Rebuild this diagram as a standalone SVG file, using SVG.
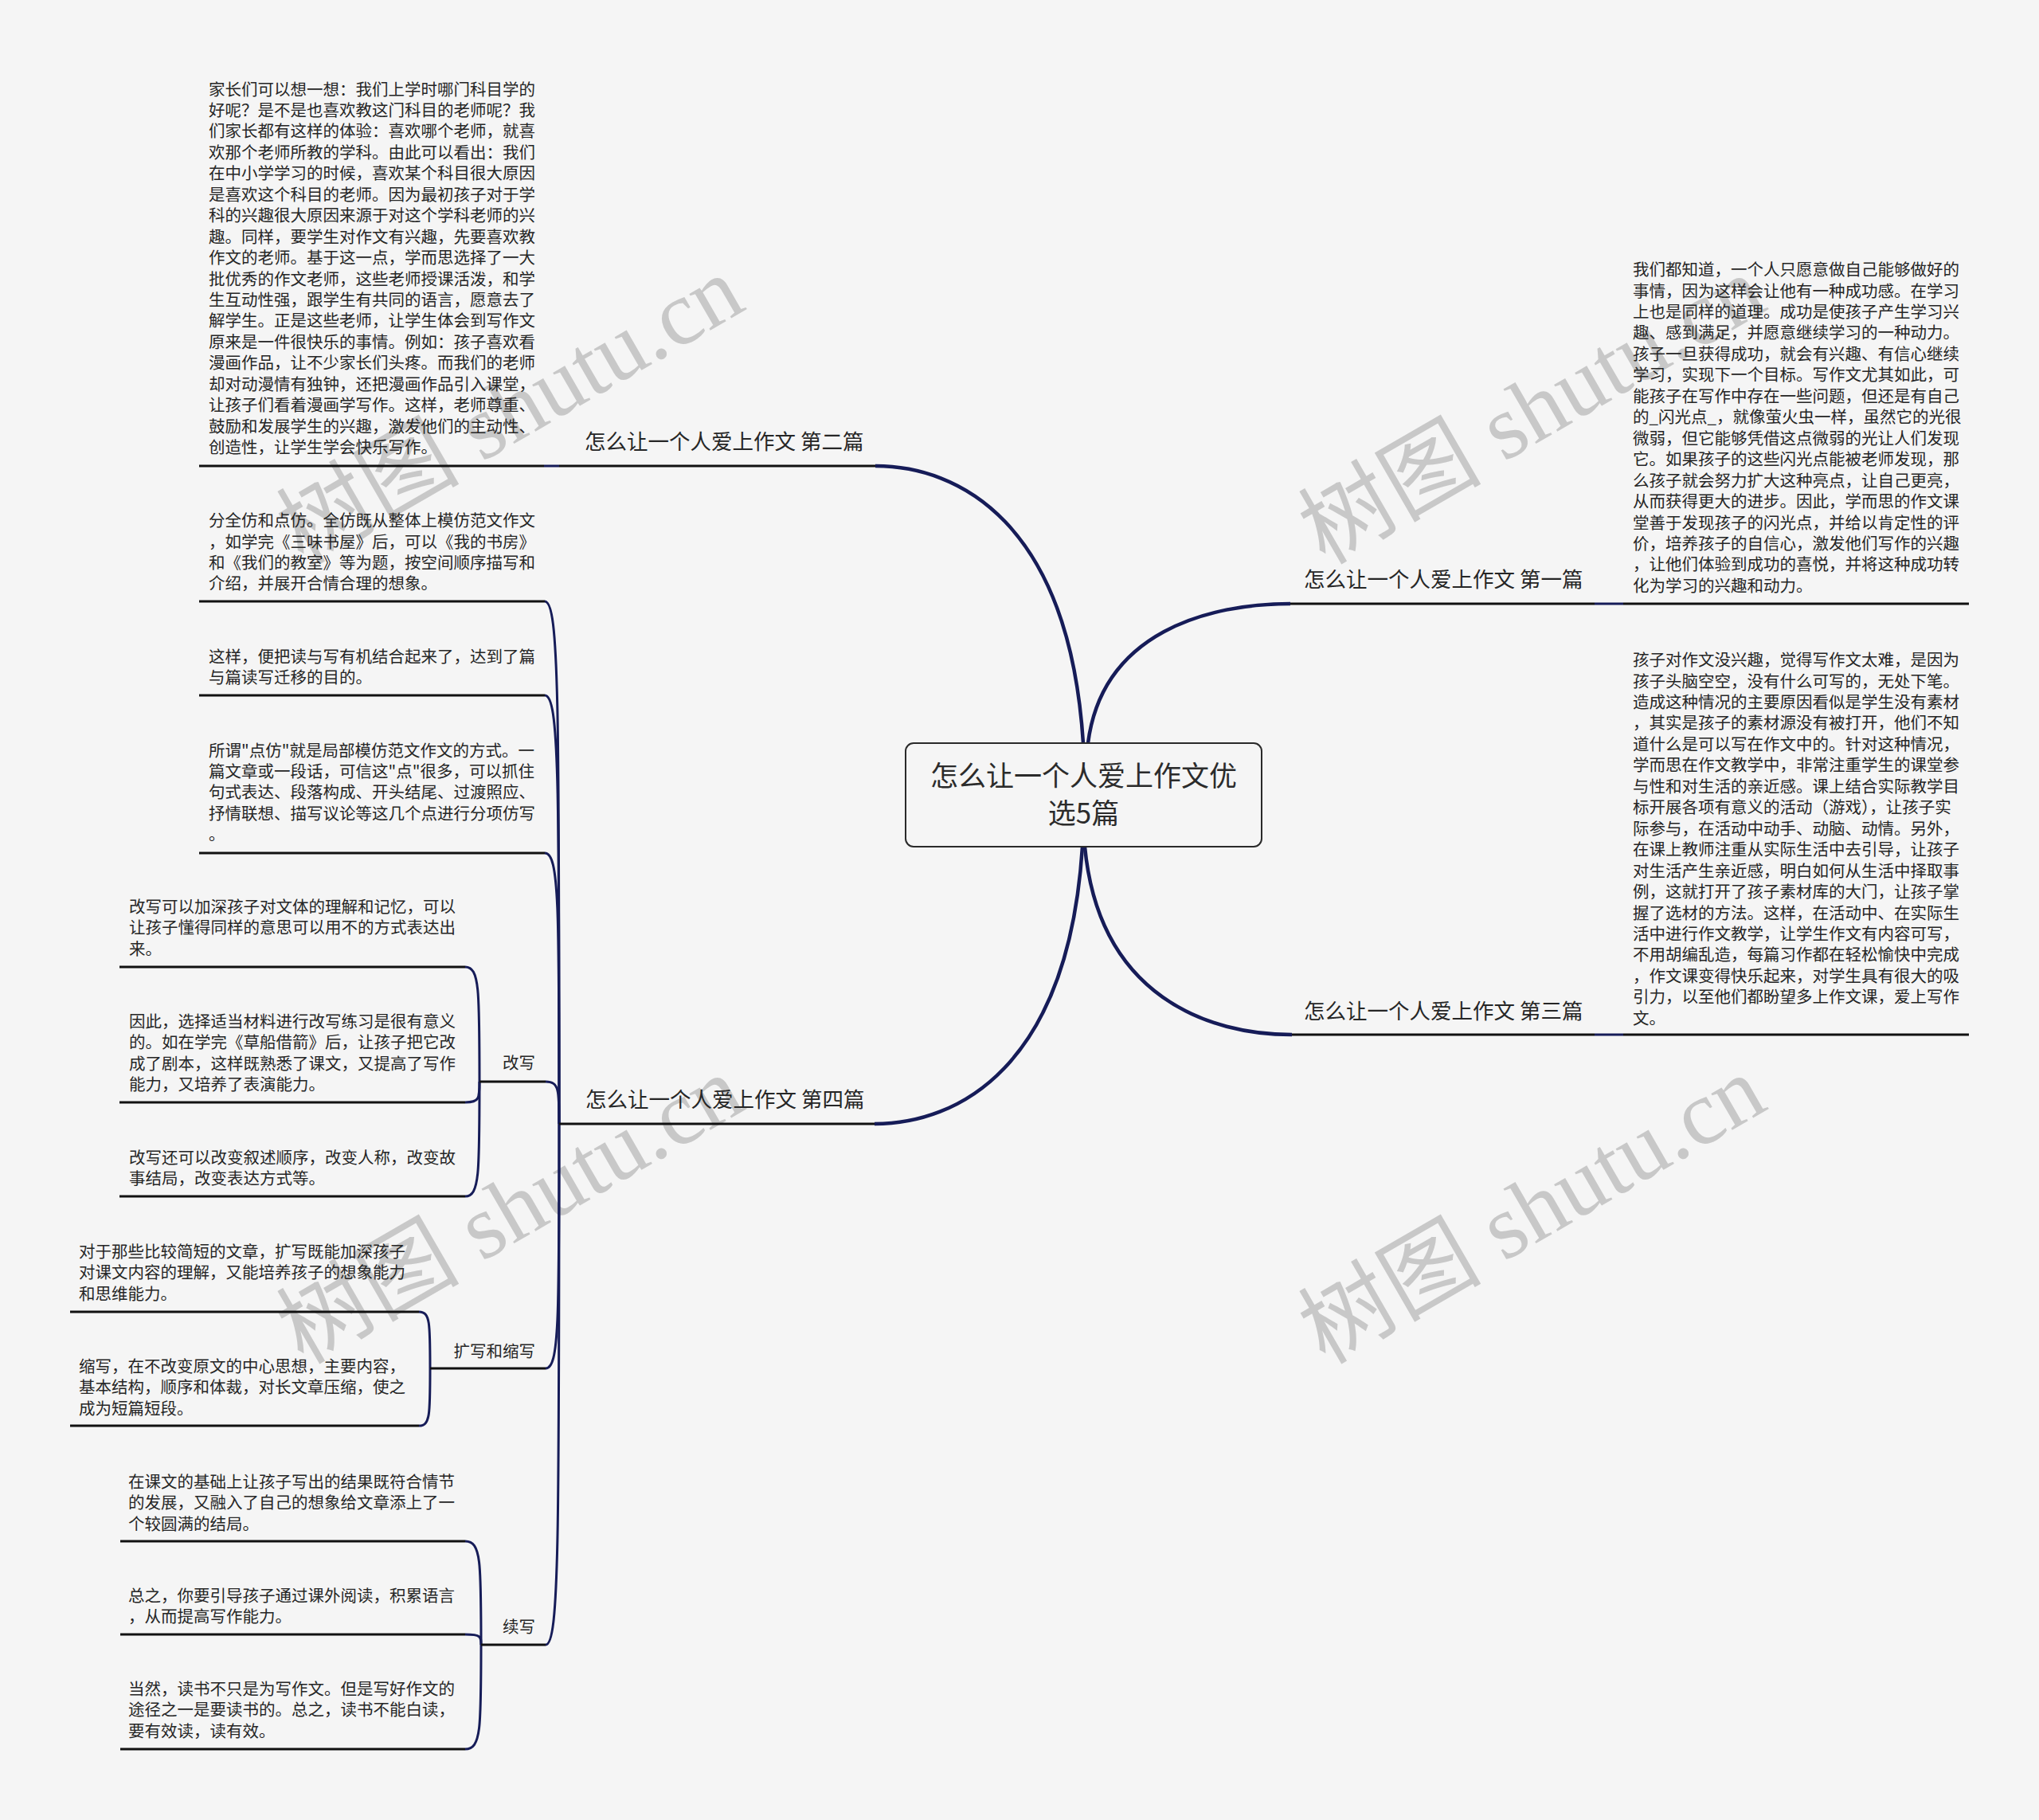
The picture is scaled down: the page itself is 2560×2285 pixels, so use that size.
<svg xmlns="http://www.w3.org/2000/svg" width="2560" height="2285" viewBox="0 0 2560 2285">
<style>
.t{font-family:'Noto Sans CJK SC','Liberation Sans',sans-serif;font-size:20.5px;fill:#262626}
.lb{font-family:'Noto Sans CJK SC','Liberation Sans',sans-serif;font-size:26.5px;fill:#262626}
.ct{font-family:'Noto Sans CJK SC','Liberation Sans',sans-serif;font-size:35px;fill:#2b2b2b}
.ul{stroke:#111;stroke-width:3;fill:none}
.cn{stroke:#161c58;stroke-width:3;fill:none}
.mb{stroke:#161c58;stroke-width:4.5;fill:none}
.wm{font-family:'Liberation Serif','Noto Sans CJK SC',serif;font-size:115px;fill:#c8c8c8}
</style>
<rect width="2560" height="2285" fill="#f5f5f5"/>
<g id="watermarks">
<text class="wm" text-anchor="middle" transform="translate(640,514) rotate(-30)" x="0" y="40">树图 shutu.cn</text>
<text class="wm" text-anchor="middle" transform="translate(640,1518) rotate(-30)" x="0" y="40">树图 shutu.cn</text>
<text class="wm" text-anchor="middle" transform="translate(1923,514) rotate(-30)" x="0" y="40">树图 shutu.cn</text>
<text class="wm" text-anchor="middle" transform="translate(1923,1518) rotate(-30)" x="0" y="40">树图 shutu.cn</text>
</g>
<g id="connectors">
<path class="mb" d="M1360,933 C1342,655 1203,585 1099,585"/>
<path class="mb" d="M1366,933 C1384,793 1518,758 1620,758"/>
<path class="mb" d="M1362,1063 C1380,1252 1518,1299 1622,1299"/>
<path class="mb" d="M1359,1063 C1341,1341 1202,1411 1098,1411"/>
<path class="cn" d="M702,585 L683,585"/>
<path class="cn" d="M2002,758 L2038,758"/>
<path class="cn" d="M2002,1299 L2038,1299"/>
<path class="cn" d="M702,1411 C702,886 702,755 684,755"/>
<path class="cn" d="M702,1411 C702,981 702,873 684,873"/>
<path class="cn" d="M702,1411 C702,1139 702,1071 684,1071"/>
<path class="cn" d="M702,1411 C702,1369 702,1358 685,1358"/>
<path class="cn" d="M702,1411 C702,1657 702,1718 685,1718"/>
<path class="cn" d="M702,1411 C702,1934 702,2065 685,2065"/>
<path class="cn" d="M602,1358 C602,1243 602,1214 584,1214"/>
<path class="cn" d="M602,1358 C602,1379 602,1384 584,1384"/>
<path class="cn" d="M602,1358 C602,1473 602,1502 584,1502"/>
<path class="cn" d="M540,1718 C540,1661 540,1647 526,1647"/>
<path class="cn" d="M540,1718 C540,1776 540,1790 526,1790"/>
<path class="cn" d="M604,2065 C604,1961 604,1935 584,1935"/>
<path class="cn" d="M604,2065 C604,2055 604,2052 584,2052"/>
<path class="cn" d="M604,2065 C604,2170 604,2196 584,2196"/>
</g>
<g id="root">
<rect x="1137" y="933" width="447" height="130" rx="10" fill="#f5f5f5" stroke="#2a2a2a" stroke-width="2"/>
<text class="ct" text-anchor="middle" x="1360.5" y="986.6">怎么让一个人爱上作文优</text>
<text class="ct" text-anchor="middle" x="1360.5" y="1034">选5篇</text>
</g>
<g id="b2">
<text class="lb" x="734" y="563.6">怎么让一个人爱上作文 第二篇</text>
<line class="ul" x1="702" y1="585" x2="1099" y2="585"/>
</g>
<g id="b2c1">
<text class="t" x="262" y="119.5"><tspan x="262" dy="0">家长们可以想一想：我们上学时哪门科目学的</tspan><tspan x="262" dy="26.45">好呢？是不是也喜欢教这门科目的老师呢？我</tspan><tspan x="262" dy="26.45">们家长都有这样的体验：喜欢哪个老师，就喜</tspan><tspan x="262" dy="26.45">欢那个老师所教的学科。由此可以看出：我们</tspan><tspan x="262" dy="26.45">在中小学学习的时候，喜欢某个科目很大原因</tspan><tspan x="262" dy="26.45">是喜欢这个科目的老师。因为最初孩子对于学</tspan><tspan x="262" dy="26.45">科的兴趣很大原因来源于对这个学科老师的兴</tspan><tspan x="262" dy="26.45">趣。同样，要学生对作文有兴趣，先要喜欢教</tspan><tspan x="262" dy="26.45">作文的老师。基于这一点，学而思选择了一大</tspan><tspan x="262" dy="26.45">批优秀的作文老师，这些老师授课活泼，和学</tspan><tspan x="262" dy="26.45">生互动性强，跟学生有共同的语言，愿意去了</tspan><tspan x="262" dy="26.45">解学生。正是这些老师，让学生体会到写作文</tspan><tspan x="262" dy="26.45">原来是一件很快乐的事情。例如：孩子喜欢看</tspan><tspan x="262" dy="26.45">漫画作品，让不少家长们头疼。而我们的老师</tspan><tspan x="262" dy="26.45">却对动漫情有独钟，还把漫画作品引入课堂，</tspan><tspan x="262" dy="26.45">让孩子们看着漫画学写作。这样，老师尊重、</tspan><tspan x="262" dy="26.45">鼓励和发展学生的兴趣，激发他们的主动性、</tspan><tspan x="262" dy="26.45">创造性，让学生学会快乐写作。</tspan></text>
<line class="ul" x1="250" y1="585" x2="683" y2="585"/>
</g>
<g id="b1">
<text class="lb" x="1637" y="737">怎么让一个人爱上作文 第一篇</text>
<line class="ul" x1="1620" y1="758" x2="2002" y2="758"/>
</g>
<g id="b1c1">
<text class="t" x="2050" y="346.1"><tspan x="2050" dy="0">我们都知道，一个人只愿意做自己能够做好的</tspan><tspan x="2050" dy="26.45">事情，因为这样会让他有一种成功感。在学习</tspan><tspan x="2050" dy="26.45">上也是同样的道理。成功是使孩子产生学习兴</tspan><tspan x="2050" dy="26.45">趣、感到满足，并愿意继续学习的一种动力。</tspan><tspan x="2050" dy="26.45">孩子一旦获得成功，就会有兴趣、有信心继续</tspan><tspan x="2050" dy="26.45">学习，实现下一个目标。写作文尤其如此，可</tspan><tspan x="2050" dy="26.45">能孩子在写作中存在一些问题，但还是有自己</tspan><tspan x="2050" dy="26.45">的_闪光点_，就像萤火虫一样，虽然它的光很</tspan><tspan x="2050" dy="26.45">微弱，但它能够凭借这点微弱的光让人们发现</tspan><tspan x="2050" dy="26.45">它。如果孩子的这些闪光点能被老师发现，那</tspan><tspan x="2050" dy="26.45">么孩子就会努力扩大这种亮点，让自己更亮，</tspan><tspan x="2050" dy="26.45">从而获得更大的进步。因此，学而思的作文课</tspan><tspan x="2050" dy="26.45">堂善于发现孩子的闪光点，并给以肯定性的评</tspan><tspan x="2050" dy="26.45">价，培养孩子的自信心，激发他们写作的兴趣</tspan><tspan x="2050" dy="26.45">，让他们体验到成功的喜悦，并将这种成功转</tspan><tspan x="2050" dy="26.45">化为学习的兴趣和动力。</tspan></text>
<line class="ul" x1="2038" y1="758" x2="2472" y2="758"/>
</g>
<g id="b3">
<text class="lb" x="1637" y="1278.6">怎么让一个人爱上作文 第三篇</text>
<line class="ul" x1="1622" y1="1299" x2="2002" y2="1299"/>
</g>
<g id="b3c1">
<text class="t" x="2050" y="836.1"><tspan x="2050" dy="0">孩子对作文没兴趣，觉得写作文太难，是因为</tspan><tspan x="2050" dy="26.45">孩子头脑空空，没有什么可写的，无处下笔。</tspan><tspan x="2050" dy="26.45">造成这种情况的主要原因看似是学生没有素材</tspan><tspan x="2050" dy="26.45">，其实是孩子的素材源没有被打开，他们不知</tspan><tspan x="2050" dy="26.45">道什么是可以写在作文中的。针对这种情况，</tspan><tspan x="2050" dy="26.45">学而思在作文教学中，非常注重学生的课堂参</tspan><tspan x="2050" dy="26.45">与性和对生活的亲近感。课上结合实际教学目</tspan><tspan x="2050" dy="26.45">标开展各项有意义的活动（游戏），让孩子实</tspan><tspan x="2050" dy="26.45">际参与，在活动中动手、动脑、动情。另外，</tspan><tspan x="2050" dy="26.45">在课上教师注重从实际生活中去引导，让孩子</tspan><tspan x="2050" dy="26.45">对生活产生亲近感，明白如何从生活中择取事</tspan><tspan x="2050" dy="26.45">例，这就打开了孩子素材库的大门，让孩子掌</tspan><tspan x="2050" dy="26.45">握了选材的方法。这样，在活动中、在实际生</tspan><tspan x="2050" dy="26.45">活中进行作文教学，让学生作文有内容可写，</tspan><tspan x="2050" dy="26.45">不用胡编乱造，每篇习作都在轻松愉快中完成</tspan><tspan x="2050" dy="26.45">，作文课变得快乐起来，对学生具有很大的吸</tspan><tspan x="2050" dy="26.45">引力，以至他们都盼望多上作文课，爱上写作</tspan><tspan x="2050" dy="26.45">文。</tspan></text>
<line class="ul" x1="2038" y1="1299" x2="2472" y2="1299"/>
</g>
<g id="b4">
<text class="lb" x="735" y="1390">怎么让一个人爱上作文 第四篇</text>
<line class="ul" x1="702" y1="1411" x2="1098" y2="1411"/>
</g>
<g id="b4c1">
<text class="t" x="262" y="661.1"><tspan x="262" dy="0">分全仿和点仿。全仿既从整体上模仿范文作文</tspan><tspan x="262" dy="26.45">，如学完《三味书屋》后，可以《我的书房》</tspan><tspan x="262" dy="26.45">和《我们的教室》等为题，按空间顺序描写和</tspan><tspan x="262" dy="26.45">介绍，并展开合情合理的想象。</tspan></text>
<line class="ul" x1="250" y1="755" x2="684" y2="755"/>
</g>
<g id="b4c2">
<text class="t" x="262" y="831.8"><tspan x="262" dy="0">这样，便把读与写有机结合起来了，达到了篇</tspan><tspan x="262" dy="26.45">与篇读写迁移的目的。</tspan></text>
<line class="ul" x1="250" y1="873" x2="684" y2="873"/>
</g>
<g id="b4c3">
<text class="t" x="262" y="949.5"><tspan x="262" dy="0">所谓"点仿"就是局部模仿范文作文的方式。一</tspan><tspan x="262" dy="26.45">篇文章或一段话，可信这"点"很多，可以抓住</tspan><tspan x="262" dy="26.45">句式表达、段落构成、开头结尾、过渡照应、</tspan><tspan x="262" dy="26.45">抒情联想、描写议论等这几个点进行分项仿写</tspan><tspan x="262" dy="26.45">。</tspan></text>
<line class="ul" x1="250" y1="1071" x2="684" y2="1071"/>
</g>
<g id="gaixie">
<text class="t" text-anchor="end" x="672" y="1341.8">改写</text>
<line class="ul" x1="602" y1="1358" x2="685" y2="1358"/>
</g>
<g id="gaixie1">
<text class="t" x="162" y="1145.8"><tspan x="162" dy="0">改写可以加深孩子对文体的理解和记忆，可以</tspan><tspan x="162" dy="26.45">让孩子懂得同样的意思可以用不的方式表达出</tspan><tspan x="162" dy="26.45">来。</tspan></text>
<line class="ul" x1="150" y1="1214" x2="584" y2="1214"/>
</g>
<g id="gaixie2">
<text class="t" x="162" y="1289.8"><tspan x="162" dy="0">因此，选择适当材料进行改写练习是很有意义</tspan><tspan x="162" dy="26.45">的。如在学完《草船借箭》后，让孩子把它改</tspan><tspan x="162" dy="26.45">成了剧本，这样既熟悉了课文，又提高了写作</tspan><tspan x="162" dy="26.45">能力，又培养了表演能力。</tspan></text>
<line class="ul" x1="150" y1="1384" x2="584" y2="1384"/>
</g>
<g id="gaixie3">
<text class="t" x="162" y="1460.5"><tspan x="162" dy="0">改写还可以改变叙述顺序，改变人称，改变故</tspan><tspan x="162" dy="26.45">事结局，改变表达方式等。</tspan></text>
<line class="ul" x1="150" y1="1502" x2="584" y2="1502"/>
</g>
<g id="kuoxie">
<text class="t" text-anchor="end" x="672" y="1703.8">扩写和缩写</text>
<line class="ul" x1="540" y1="1718" x2="685" y2="1718"/>
</g>
<g id="kuoxie1">
<text class="t" x="99" y="1578.8"><tspan x="99" dy="0">对于那些比较简短的文章，扩写既能加深孩子</tspan><tspan x="99" dy="26.45">对课文内容的理解，又能培养孩子的想象能力</tspan><tspan x="99" dy="26.45">和思维能力。</tspan></text>
<line class="ul" x1="88" y1="1647" x2="526" y2="1647"/>
</g>
<g id="kuoxie2">
<text class="t" x="99" y="1722.8"><tspan x="99" dy="0">缩写，在不改变原文的中心思想，主要内容，</tspan><tspan x="99" dy="26.45">基本结构，顺序和体裁，对长文章压缩，使之</tspan><tspan x="99" dy="26.45">成为短篇短段。</tspan></text>
<line class="ul" x1="88" y1="1790" x2="526" y2="1790"/>
</g>
<g id="xuxie">
<text class="t" text-anchor="end" x="672" y="2049.8">续写</text>
<line class="ul" x1="604" y1="2065" x2="685" y2="2065"/>
</g>
<g id="xuxie1">
<text class="t" x="161" y="1867.8"><tspan x="161" dy="0">在课文的基础上让孩子写出的结果既符合情节</tspan><tspan x="161" dy="26.45">的发展，又融入了自己的想象给文章添上了一</tspan><tspan x="161" dy="26.45">个较圆满的结局。</tspan></text>
<line class="ul" x1="151" y1="1935" x2="584" y2="1935"/>
</g>
<g id="xuxie2">
<text class="t" x="161" y="2010.8"><tspan x="161" dy="0">总之，你要引导孩子通过课外阅读，积累语言</tspan><tspan x="161" dy="26.45">，从而提高写作能力。</tspan></text>
<line class="ul" x1="151" y1="2052" x2="584" y2="2052"/>
</g>
<g id="xuxie3">
<text class="t" x="161" y="2127.8"><tspan x="161" dy="0">当然，读书不只是为写作文。但是写好作文的</tspan><tspan x="161" dy="26.45">途径之一是要读书的。总之，读书不能白读，</tspan><tspan x="161" dy="26.45">要有效读，读有效。</tspan></text>
<line class="ul" x1="151" y1="2196" x2="584" y2="2196"/>
</g>
</svg>
